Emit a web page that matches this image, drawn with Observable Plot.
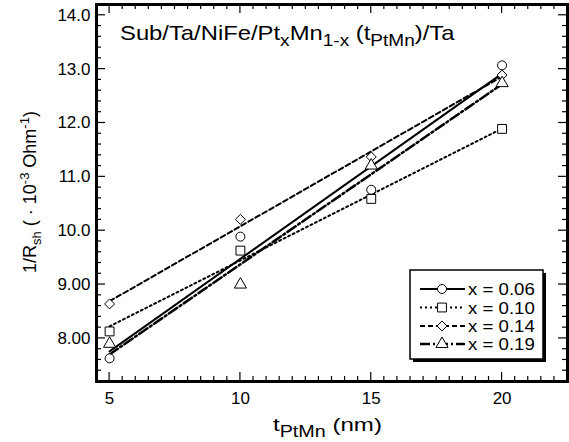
<!DOCTYPE html>
<html><head><meta charset="utf-8">
<script src="https://cdn.jsdelivr.net/npm/d3@7"></script>
<script src="https://cdn.jsdelivr.net/npm/@observablehq/plot@0.6"></script>
<style>body{margin:0;background:#fff;}</style>
</head><body><div id="chart"></div>
<script>
// ---- data ----
const thickness = [5, 10, 15, 20];
const seriesNames = ["x = 0.06", "x = 0.10", "x = 0.14", "x = 0.19"];
const r006 = [7.63, 9.89, 10.76, 13.07];
const r010 = [8.13, 9.63, 10.59, 11.89];
const r014 = [8.64, 10.21, 11.37, 12.89];
const r019 = [7.90, 9.00, 11.21, 12.74];
const xTickLabels = [5, 10, 15, 20];
const yTickValues = [8, 9, 10, 11, 12, 13, 14];

// ---- styles ----
const seriesValues = [r006, r010, r014, r019];
const symbols = ["circle", "square", "diamond2", "triangle"];
const d3symbols = [d3.symbolCircle, d3.symbolSquare, d3.symbolDiamond2, d3.symbolTriangle];
const dashes = ["none", "2,3", "5,3", "10,3,2,3"];
const widths = [2, 2, 2, 2.5];
const radii = [4.5, 5, 4.5, 4.5];

const data = seriesNames.flatMap((s, i) => thickness.map((t, j) => ({series: s, i, t, v: seriesValues[i][j]})));

const W = 569, H = 442, mL = 96, mR = 2, mT = 4, mB = 61;
const xMinor = d3.range(9, 46).map(d => d / 2).filter(d => !xTickLabels.includes(d));
const yMinor = d3.range(37, 71).map(d => d / 5).filter(d => Math.abs(d - Math.round(d)) > 1e-9);
const majLen = 9, minLen = 5;

const marks = [];
seriesNames.forEach((s, i) => {
  marks.push(Plot.linearRegressionY(data.filter(d => d.i === i), {
    x: "t", y: "v", ci: 0, stroke: "black", strokeWidth: widths[i], strokeDasharray: dashes[i]
  }));
});
seriesNames.forEach((s, i) => {
  marks.push(Plot.dot(data.filter(d => d.i === i), {
    x: "t", y: "v", symbol: () => symbols[i], r: radii[i], fill: "white", stroke: "black", strokeWidth: 1
  }));
});
marks.push(
  Plot.frame({stroke: "black", strokeWidth: 3}),
  Plot.axisX(xTickLabels, {tickSize: 0, tickPadding: 10, label: null, fontSize: 17}),
  Plot.axisY(yTickValues, {tickSize: 0, tickPadding: 6, label: null, fontSize: 17, tickFormat: d3.format(".3r")})
);

const svgNode = Plot.plot({
  width: W, height: H,
  marginLeft: mL, marginRight: mR, marginTop: mT, marginBottom: mB,
  style: {fontFamily: "'Liberation Sans', Arial, sans-serif", fontSize: "16px", background: "white", color: "black"},
  x: {domain: [4.5, 22.5]},
  y: {domain: [7.2, 14.2]},
  marks
});
document.getElementById("chart").appendChild(svgNode);

const svg = d3.select(svgNode);
const FF = "'Liberation Sans', Arial, sans-serif";
const xs = svgNode.scale("x"), ys = svgNode.scale("y");
const X = v => xs.apply(v), Y = v => ys.apply(v);
const fx0 = mL, fx1 = W - mR, fy0 = mT, fy1 = H - mB;

// inward ticks on all four sides, positioned by Plot's scales
const tg = svg.append("g").attr("stroke", "black").attr("stroke-width", 1.2);
const tickSets = [[xTickLabels, majLen], [xMinor, minLen]];
tickSets.forEach(([vals, len]) => vals.forEach(v => {
  const px = X(v);
  tg.append("line").attr("x1", px).attr("x2", px).attr("y1", fy1).attr("y2", fy1 - len);
  tg.append("line").attr("x1", px).attr("x2", px).attr("y1", fy0).attr("y2", fy0 + len);
}));
[[yTickValues, majLen], [yMinor, minLen]].forEach(([vals, len]) => vals.forEach(v => {
  const py = Y(v);
  tg.append("line").attr("y1", py).attr("y2", py).attr("x1", fx0).attr("x2", fx0 + len);
  tg.append("line").attr("y1", py).attr("y2", py).attr("x1", fx1).attr("x2", fx1 - len);
}));

function richText(parent, parts, size, subRatio) {
  const t = parent.append("text").attr("font-family", FF).attr("font-size", size)
    .attr("fill", "black").attr("text-anchor", "start").attr("x", 0).attr("y", 0);
  let shift = 0;
  parts.forEach(([txt, kind]) => {
    const target = kind === "sub" ? size * 0.3 : kind === "sup" ? -size * 0.4 : 0;
    t.append("tspan").attr("dy", target - shift).attr("font-size", kind === "n" ? size : size * subRatio).text(txt);
    shift = target;
  });
  return t;
}
function place(t, left, baseline, targetW) {
  const bb = t.node().getBBox();
  const s = targetW ? targetW / bb.width : 1;
  t.attr("transform", `translate(${left},${baseline}) scale(${s},1)`);
  return s;
}

// Title inside plot
place(richText(svg, [["Sub/Ta/NiFe/Pt", "n"], ["x", "sub"], ["Mn", "n"], ["1-x", "sub"], [" (t", "n"], ["PtMn", "sub"], [")/Ta", "n"]], 21, 0.8),
  120, 40, 335);

// x label
place(richText(svg, [["t", "n"], ["PtMn", "sub"], [" (nm)", "n"]], 19, 0.82), 273, 431, 109);

// y label
const yl = richText(svg.append("g").attr("transform", "translate(36,192) rotate(-90)"),
  [["1/R", "n"], ["sh", "sub"], [" ( · 10", "n"], ["-3", "sup"], [" Ohm", "n"], ["-1", "sup"], [")", "n"]], 18, 0.72);
yl.attr("text-anchor", "middle");

// legend
const lg = svg.append("g");
const bx = 410, by = 270, bw = 133, bh = 89;
lg.append("rect").attr("x", bx + 3).attr("y", by + 3).attr("width", bw).attr("height", bh).attr("fill", "black");
lg.append("rect").attr("x", bx).attr("y", by).attr("width", bw).attr("height", bh).attr("fill", "white").attr("stroke", "black").attr("stroke-width", 1.5);
const rowY = [289, 307.5, 326, 344];
let legScale = null;
seriesNames.forEach((s, i) => {
  const y = rowY[i];
  lg.append("line").attr("x1", 420).attr("x2", 465).attr("y1", y).attr("y2", y)
    .attr("stroke", "black").attr("stroke-width", widths[i]).attr("stroke-dasharray", dashes[i]);
  lg.append("path").attr("d", d3.symbol(d3symbols[i], Math.PI * radii[i] * radii[i])())
    .attr("transform", `translate(442,${y})`).attr("fill", "white").attr("stroke", "black");
  const t = lg.append("text").attr("x", 0).attr("y", 0).attr("text-anchor", "start")
    .attr("font-family", FF).attr("font-size", 16).attr("fill", "black").text(s);
  if (legScale === null) legScale = t.node().getBBox().width ? 67 / t.node().getBBox().width : 1;
  t.attr("transform", `translate(468,${y + 6}) scale(${legScale},1)`);
});
</script>
</body></html>
